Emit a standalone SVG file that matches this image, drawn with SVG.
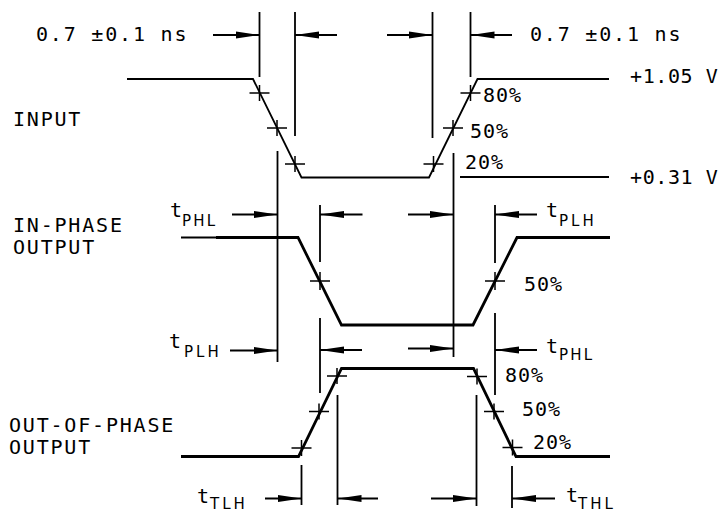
<svg xmlns="http://www.w3.org/2000/svg" width="721" height="512" viewBox="0 0 721 512">
<defs>
<marker id="ah" markerUnits="userSpaceOnUse" markerWidth="24" markerHeight="8" refX="24" refY="4" orient="auto" viewBox="0 0 24 8">
<path d="M0,0.5 L24,4 L0,7.5 z" fill="#000"/>
</marker>
<style>
.t{font-family:"DejaVu Sans Mono","Liberation Mono",monospace;font-size:20px;letter-spacing:1.8px;fill:#000}
.s{font-family:"DejaVu Sans","Liberation Sans",sans-serif;font-size:15px;letter-spacing:2.2px;fill:#000}
.d{stroke:#000;stroke-width:1.8;fill:none}
.a{stroke:#000;stroke-width:1.8;fill:none;marker-end:url(#ah)}
.w{stroke:#000;stroke-width:1.8;fill:none;stroke-linejoin:miter}
.wo{stroke:#000;stroke-width:2.8;fill:none;stroke-linejoin:miter}
.x{stroke:#000;stroke-width:1.5;fill:none}
</style>
</defs>
<rect width="721" height="512" fill="#fff"/>

<g id="labels">
<text class="t" x="36" y="40.5">0.7 ±0.1 ns</text>
<text class="t" x="530" y="40.5">0.7 ±0.1 ns</text>
<text class="t" x="13" y="126">INPUT</text>
<text class="t" x="13" y="231.5">IN-PHASE</text>
<text class="t" x="13" y="254">OUTPUT</text>
<text class="t" x="9" y="431.5">OUT-OF-PHASE</text>
<text class="t" x="9" y="454">OUTPUT</text>
<text class="t" x="630" y="83" style="letter-spacing:0.6px">+1.05 V</text>
<text class="t" x="630" y="184" style="letter-spacing:0.6px">+0.31 V</text>
<text class="t" x="483" y="101.5" style="letter-spacing:1px">80%</text>
<text class="t" x="470" y="138" style="letter-spacing:1px">50%</text>
<text class="t" x="465" y="169" style="letter-spacing:1px">20%</text>
<text class="t" x="524" y="291" style="letter-spacing:1px">50%</text>
<text class="t" x="505" y="381.5" style="letter-spacing:1px">80%</text>
<text class="t" x="522" y="416" style="letter-spacing:1px">50%</text>
<text class="t" x="533" y="449" style="letter-spacing:1px">20%</text>
</g>

<g id="tPHL-left"><text class="t" x="170" y="217">t</text><text class="s" x="182" y="226">PHL</text></g>
<g id="tPLH-left"><text class="t" x="169" y="348">t</text><text class="s" x="184" y="357" style="letter-spacing:3px">PLH</text></g>
<g id="tPLH-right"><text class="t" x="546" y="217">t</text><text class="s" x="559" y="225.5" style="letter-spacing:3px">PLH</text></g>
<g id="tPHL-right"><text class="t" x="546" y="353">t</text><text class="s" x="559" y="360">PHL</text></g>
<g id="tTLH"><text class="t" x="197" y="503">t</text><text class="s" x="210" y="508.5" style="letter-spacing:3px">TLH</text></g>
<g id="tTHL"><text class="t" x="566" y="502">t</text><text class="s" x="578" y="508.5" style="letter-spacing:3px">THL</text></g>

<g id="input-waveform">
<polyline class="w" points="127,79 253,79 301.5,177.5 429,177.5 477.5,79 609,79"/>
<line class="w" x1="460" y1="177" x2="609" y2="177"/>
<path class="x" d="M249.5,93 h20 M259.5,85 v16 M267,128 h20 M277,120 v16 M285,164 h20 M295,156 v16 M423.5,164 h20 M433.5,156 v16 M443,128 h20 M453,120 v16 M460.5,93 h20 M470.5,85 v16"/>
</g>

<g id="in-phase-waveform">
<line class="w" x1="181" y1="237.5" x2="217" y2="237.5"/>
<polyline class="wo" points="216,237.5 298,237.5 341.5,325 473,325 517,237.5 610,237.5"/>
<path class="x" d="M310,281 h20 M320,272 v18 M485,281 h20 M495,272 v18"/>
</g>

<g id="out-of-phase-waveform">
<polyline class="wo" points="181,456.5 298.5,456.5 341.5,368.5 473.5,368.5 516,456.5 610,456.5"/>
<path class="x" d="M291.5,448 h20 M301.5,440 v16 M309,411.5 h20 M319,403.5 v16 M327,376 h20 M337,368 v16 M467,376.5 h20 M477,368.5 v16 M484,411.5 h20 M494,403.5 v16 M502.5,447.5 h20 M512.5,439.5 v16"/>
</g>

<g id="connectors">
<path class="d" d="M259.5,12 V77 M295,12 V136 M432.5,12 V138 M470.5,12 V77 M277.5,151 V362 M453.5,153 V357 M320,205 V262 M320,318 V393 M495,205 V263 M495,313 V395 M301.5,465 V505 M337.5,395 V505 M476.5,395 V506 M512,466 V508"/>
<line class="a" x1="213" y1="35" x2="259.5" y2="35"/>
<line class="a" x1="337" y1="35" x2="295" y2="35"/>
<line class="a" x1="387" y1="35" x2="432.5" y2="35"/>
<line class="a" x1="512" y1="35" x2="470.5" y2="35"/>
<line class="a" x1="232" y1="214.5" x2="277.5" y2="214.5"/>
<line class="a" x1="362.5" y1="214.5" x2="320" y2="214.5"/>
<line class="a" x1="408" y1="214.5" x2="453.5" y2="214.5"/>
<line class="a" x1="537" y1="214.5" x2="495" y2="214.5"/>
<line class="a" x1="230" y1="350.5" x2="277.5" y2="350.5"/>
<line class="a" x1="362" y1="350" x2="320" y2="350"/>
<line class="a" x1="408" y1="348.5" x2="453.5" y2="348.5"/>
<line class="a" x1="537" y1="350" x2="495" y2="350"/>
<line class="a" x1="265" y1="498.5" x2="301.5" y2="498.5"/>
<line class="a" x1="378" y1="498.5" x2="337.5" y2="498.5"/>
<line class="a" x1="431" y1="498.5" x2="476.5" y2="498.5"/>
<line class="a" x1="555" y1="498.5" x2="512" y2="498.5"/>
</g>
</svg>
